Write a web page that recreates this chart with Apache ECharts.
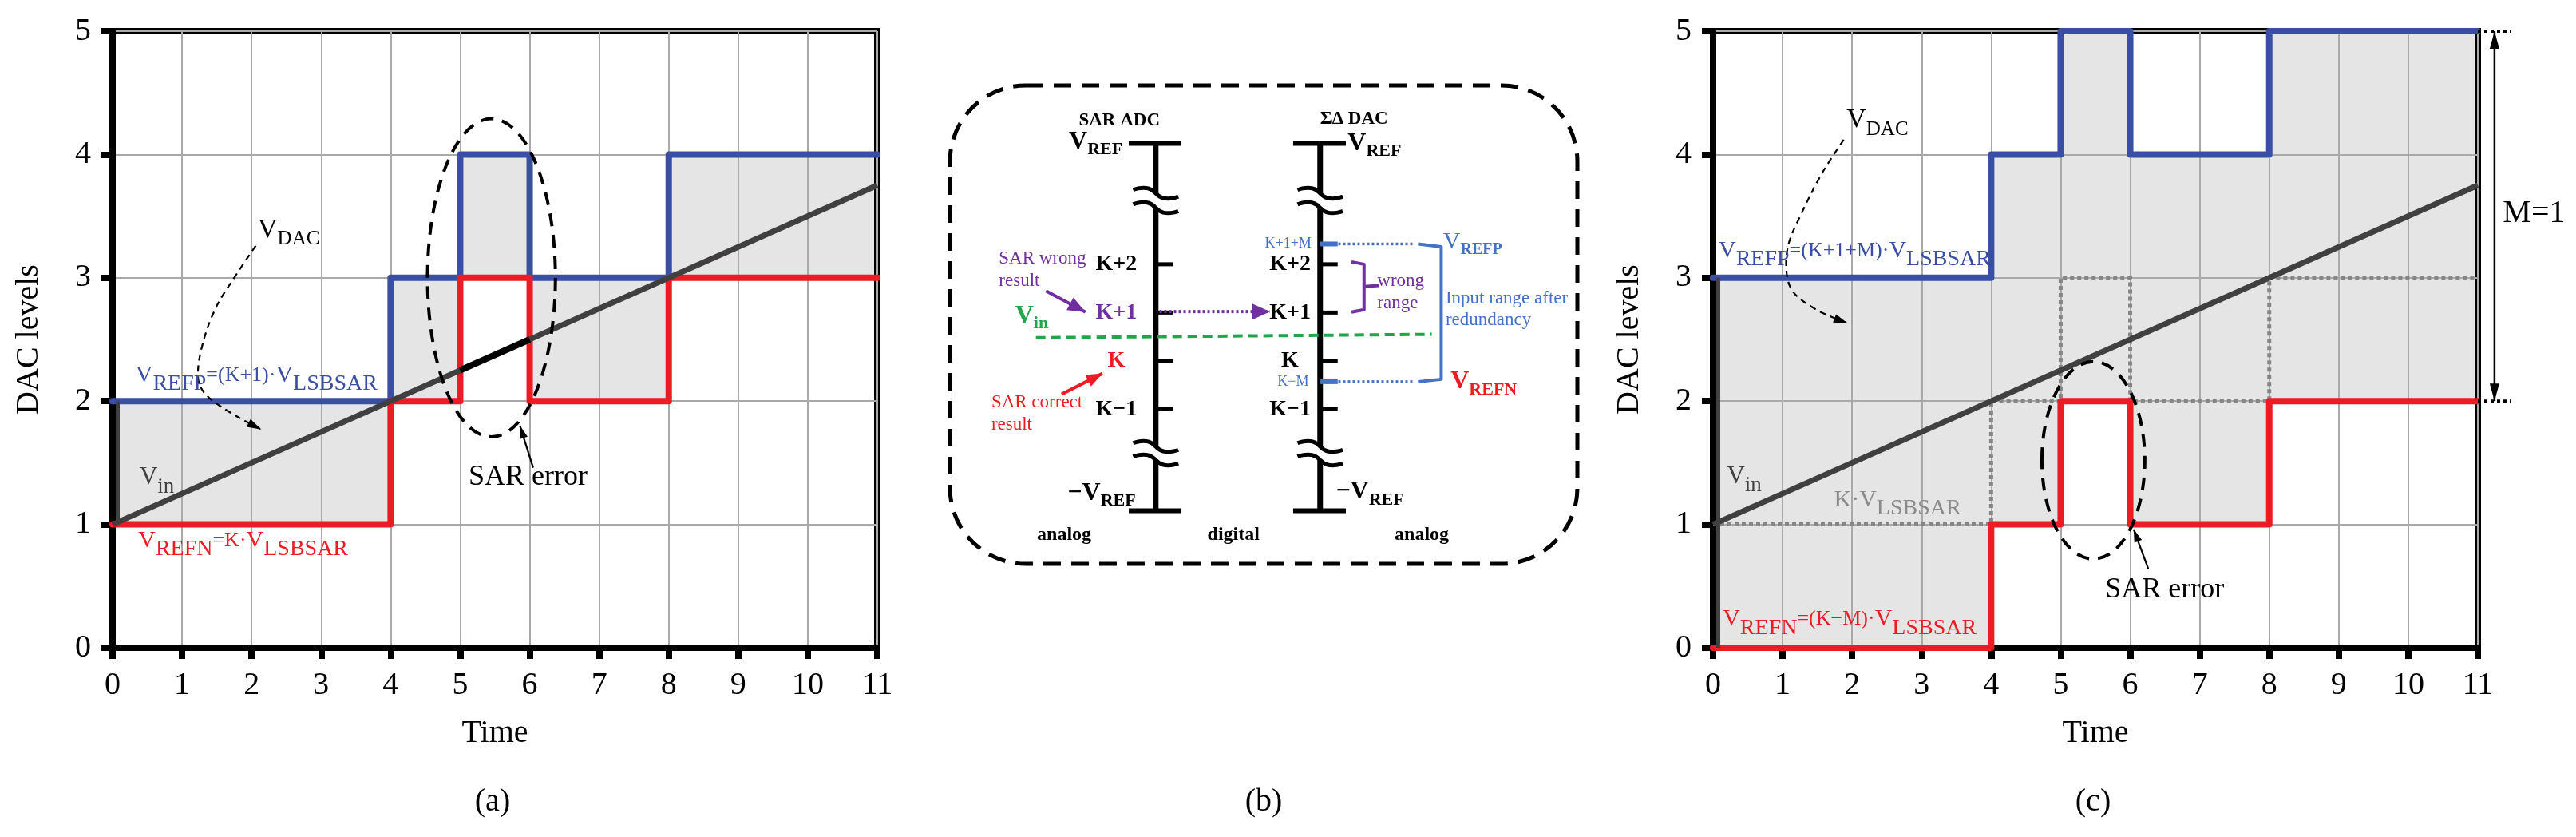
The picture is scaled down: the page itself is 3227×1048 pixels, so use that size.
<!DOCTYPE html>
<html>
<head>
<meta charset="utf-8">
<title>DAC levels</title>
<script src="https://cdn.jsdelivr.net/npm/echarts@6.0.0/dist/echarts.min.js"></script>
<style>
html,body{margin:0;padding:0;background:#ffffff;}
#chart{width:3227px;height:1048px;}
</style>
</head>
<body>
<div id="chart"></div>
<script>
// ---------------- colours / fonts ----------------
const BLUE = '#3a4fa3', RED = '#ec1c24', DGRAY = '#404040';
const BBLUE = '#4472c4', PURPLE = '#7030a0', GREEN = '#1fa64a', KGRAY = '#8a8a8a';
const FONT = '"Liberation Serif", "Times New Roman", Times, serif';

// ---------------- data ----------------
const TIME_TICKS = [0,1,2,3,4,5,6,7,8,9,10,11];
const LEVEL_TICKS = [0,1,2,3,4,5];
const STEP_TIMES = [0,4,5,6,8,11];
// panel (a)
const A_REFP = [2,3,4,3,4];
const A_REFN = [1,2,3,2,3];
// panel (c)
const C_REFP = [3,4,5,4,5];
const C_REFN = [0,1,2,1,2];
const C_K    = [1,2,3,2,3];
// input ramp
const VIN = [[0,1],[11,3.75]];
const A_VIN_ERROR = [[5,2.25],[6,2.5]];
// panel (b) diagram levels
const DIAG_LEVEL_NAMES = ['K−1','K','K+1','K+2'];
const DIAG_LEVELS = [-1,0,1,2];
const DIAG_LEFT_COLORS = ['#000', RED, PURPLE, '#000'];
const DIAG_M_NAMES = ['K+1+M','K−M'];
const DIAG_M_LEVELS = [2.42,-0.43];

// ---------------- helpers ----------------
function fontStr(w, s){ return w + ' ' + s + 'px ' + FONT; }
function tok(size, weight, extra){
  const w = weight || 'normal';
  return Object.assign({fontSize:size, fontFamily:FONT, fontWeight:w, font:fontStr(w,size)}, extra || {});
}
function richSub(v, s, p, pad, w){
  return {v:tok(v,w), s:tok(s,w,{padding:[pad,0,0,0]}), p:tok(p,w)};
}
const RICH_REF  = richSub(30, 28, 26, 22);
const RICH_VDAC = richSub(34, 25, 25, 24);
const RICH_VIN  = richSub(31, 27, 27, 24);
const RICH_BOLD = richSub(32, 22, 22, 20, 'bold');
const RICH_BP   = {v:tok(30,'normal'), s:tok(20,'bold',{padding:[20,0,0,0]})};

function stepPts(vals){
  return STEP_TIMES.map((t,i) => [t, vals[Math.min(i, vals.length-1)]]);
}
function bandData(lo, hi){
  return lo.map((v,i) => [STEP_TIMES[i], STEP_TIMES[i+1], lo[i], hi[i]]);
}
function headPoly(tip, from, len, wid, color){
  const dx = tip[0]-from[0], dy = tip[1]-from[1];
  const d = Math.hypot(dx,dy) || 1, ux = dx/d, uy = dy/d;
  const bx = tip[0]-ux*len, by = tip[1]-uy*len;
  return {type:'polygon', shape:{points:[[tip[0],tip[1]],[bx-uy*wid/2, by+ux*wid/2],[bx+uy*wid/2, by-ux*wid/2]]},
          style:{fill:color, stroke:'none'}};
}
function buildAnn(a, api){
  const P = p => api.coord(p);
  const col = a.color || '#000';
  if (a.t === 'text'){
    const p = P(a.at);
    const w = a.weight || 'normal', s = a.size || 28;
    const style = {text:a.text, fill:col, fontSize:s, fontFamily:FONT, fontWeight:w, font:fontStr(w,s),
                   align:a.align || 'left', verticalAlign:'middle'};
    if (a.rich) style.rich = a.rich;
    return {type:'text', x:p[0], y:p[1], style:style};
  }
  if (a.t === 'line'){
    const pts = a.pts.map(P);
    const ch = [{type:'polyline', shape:{points:pts, smooth:a.smooth || 0},
                 style:{stroke:col, lineWidth:a.width || 2, lineDash:a.dash || null, fill:'none', lineCap:'butt', lineJoin:'round'}}];
    if (a.head) ch.push(headPoly(pts[pts.length-1], pts[pts.length-2], a.hl || 16, a.hw || 10, col));
    if (a.tail) ch.push(headPoly(pts[0], pts[1], a.hl || 16, a.hw || 10, col));
    return {type:'group', children:ch};
  }
  if (a.t === 'ellipse'){
    const c = P(a.c), e = P([a.c[0]+a.r[0], a.c[1]+a.r[1]]);
    return {type:'ellipse', shape:{cx:c[0], cy:c[1], rx:Math.abs(e[0]-c[0]), ry:Math.abs(c[1]-e[1])},
            style:{fill:'none', stroke:col, lineWidth:a.width || 4, lineDash:a.dash || null}};
  }
  if (a.t === 'rect'){
    const p0 = P([a.x0, a.y1]), p1 = P([a.x1, a.y0]);
    return {type:'rect', shape:{x:p0[0], y:p0[1], width:p1[0]-p0[0], height:p1[1]-p0[1], r:a.r || 0},
            style:{fill:'none', stroke:col, lineWidth:a.width || 2, lineDash:a.dash || null}};
  }
  if (a.t === 'strip'){
    const pHi = P([a.x, a.hi]), pLo = P([a.x, a.lo]);
    return {type:'rect', shape:{x:pHi[0]+a.off, y:pHi[1], width:a.w, height:pLo[1]-pHi[1]}, style:{fill:col}};
  }
  return null;
}
function anchorOf(a){
  if (a.at) return a.at.slice();
  if (a.c) return a.c.slice();
  if (a.pts) return a.pts[0].slice();
  if (a.t === 'rect') return [a.x0, a.y0];
  return [a.x, a.lo];
}
function annSeries(gi, list, z){
  return {type:'custom', xAxisIndex:gi, yAxisIndex:gi, z:z, silent:true, clip:false,
          data:list.map(anchorOf), renderItem:(params, api) => buildAnn(list[params.dataIndex], api)};
}

// ---------------- annotations panel (a) ----------------
const ANN_A = [
  {t:'strip', x:0, lo:1, hi:2, off:4, w:5, color:DGRAY},
  {t:'ellipse', c:[5.45,3.0], r:[0.92,1.29], width:4, dash:[16,11]},
  {t:'text', at:[5.12,1.38], text:'SAR error', size:36},
  {t:'line', pts:[[6.05,1.46],[5.86,1.80]], width:2.2, head:true, hl:16, hw:10},
  {t:'text', at:[2.09,3.39], text:'{v|V}{s|DAC}', rich:RICH_VDAC},
  {t:'line', pts:[[2.06,3.26],[1.75,3.0],[1.48,2.75],[1.29,2.45],[1.23,2.19],[1.33,2.06],[1.63,1.93],[2.0,1.81],[2.14,1.77]],
   smooth:0.35, width:2.2, dash:[8,6], head:true, hl:18, hw:11},
  {t:'text', at:[0.33,2.21], text:'{v|V}{s|REFP}{p|=(K+1)·}{v|V}{s|LSBSAR}', color:BLUE, rich:RICH_REF},
  {t:'text', at:[0.37,0.87], text:'{v|V}{s|REFN}{p|=K·}{v|V}{s|LSBSAR}', color:RED, rich:RICH_REF},
  {t:'text', at:[0.39,1.38], text:'{v|V}{s|in}', color:DGRAY, rich:RICH_VIN}
];

// ---------------- annotations panel (c) ----------------
const ANN_C = [
  {t:'strip', x:0, lo:0, hi:3, off:4, w:5, color:DGRAY},
  {t:'ellipse', c:[5.47,1.52], r:[0.74,0.80], width:4, dash:[16,11]},
  {t:'text', at:[5.64,0.47], text:'SAR error', size:36},
  {t:'line', pts:[[6.26,0.64],[6.05,0.96]], width:2.2, head:true, hl:16, hw:10},
  {t:'text', at:[1.92,4.28], text:'{v|V}{s|DAC}', rich:RICH_VDAC},
  {t:'line', pts:[[1.88,4.12],[1.57,3.85],[1.27,3.52],[1.08,3.26],[1.06,3.03],[1.16,2.88],[1.46,2.75],[1.80,2.66],[1.94,2.63]],
   smooth:0.35, width:2.2, dash:[8,6], head:true, hl:18, hw:11},
  {t:'text', at:[0.08,3.22], text:'{v|V}{s|REFP}{p|=(K+1+M)·}{v|V}{s|LSBSAR}', color:BLUE, rich:RICH_REF},
  {t:'text', at:[0.14,0.23], text:'{v|V}{s|REFN}{p|=(K−M)·}{v|V}{s|LSBSAR}', color:RED, rich:RICH_REF},
  {t:'text', at:[0.20,1.39], text:'{v|V}{s|in}', color:DGRAY, rich:RICH_VIN},
  {t:'text', at:[1.74,1.20], text:'{v|K·V}{s|LSBSAR}', color:KGRAY, rich:RICH_REF},
  {t:'line', pts:[[11,5],[11.48,5]], width:4, dash:[4,4]},
  {t:'line', pts:[[11,2],[11.48,2]], width:4, dash:[4,4]},
  {t:'line', pts:[[11.24,5],[11.24,2]], width:2.5, head:true, tail:true, hl:22, hw:12},
  {t:'text', at:[11.36,3.52], text:'M=1', size:40}
];

// ---------------- annotations panel (b) : schematic ----------------
const XL = 32.8, XR = 59.0;
const ANN_B = [];
ANN_B.push({t:'rect', x0:0, x1:100, y0:-4.2, y1:5.7, r:95, width:5, dash:[22,13]});
[XL, XR].forEach(x => {
  ANN_B.push({t:'line', pts:[[x,4.5],[x,3.47]], width:7});
  ANN_B.push({t:'line', pts:[[x,3.17],[x,-1.77]], width:7});
  ANN_B.push({t:'line', pts:[[x,-2.05],[x,-3.1]], width:7});
  ANN_B.push({t:'line', pts:[[x-4.3,4.5],[x+4.1,4.5]], width:6});
  ANN_B.push({t:'line', pts:[[x-4.3,-3.1],[x+4.1,-3.1]], width:6});
  [3.47,3.17,-1.77,-2.05].forEach(L => ANN_B.push({t:'line', pts:[[x-3.6,L+0.07],[x-1.2,L+0.1],[x+1.2,L-0.1],[x+3.6,L-0.07]], smooth:0.5, width:5}));
  DIAG_LEVELS.forEach(L => ANN_B.push({t:'line', pts:[[x,L],[x+2.8,L]], width:5}));
});
DIAG_M_LEVELS.forEach(L => ANN_B.push({t:'line', pts:[[XR,L],[XR+2.8,L]], width:6, color:BBLUE}));
DIAG_LEVELS.forEach((L,i) => {
  ANN_B.push({t:'text', at:[26.5,L], text:DIAG_LEVEL_NAMES[i], size:28, weight:'bold', align:'center', color:DIAG_LEFT_COLORS[i]});
  ANN_B.push({t:'text', at:[54.2,L], text:DIAG_LEVEL_NAMES[i], size:28, weight:'bold', align:'center'});
});
ANN_B.push({t:'text', at:[53.9,DIAG_M_LEVELS[0]], text:DIAG_M_NAMES[0], size:18, align:'center', color:BBLUE});
ANN_B.push({t:'text', at:[54.7,DIAG_M_LEVELS[1]], text:DIAG_M_NAMES[1], size:18, align:'center', color:BBLUE});
ANN_B.push(
  {t:'text', at:[27.0,4.97], text:'SAR ADC', size:23, weight:'bold', align:'center'},
  {t:'text', at:[64.4,5.0], text:'ΣΔ DAC', size:23, weight:'bold', align:'center'},
  {t:'text', at:[27.5,4.53], text:'{v|V}{s|REF}', align:'right', rich:RICH_BOLD},
  {t:'text', at:[63.4,4.50], text:'{v|V}{s|REF}', rich:RICH_BOLD},
  {t:'text', at:[29.6,-2.74], text:'{v|−V}{s|REF}', align:'right', rich:RICH_BOLD},
  {t:'text', at:[61.5,-2.71], text:'{v|−V}{s|REF}', rich:RICH_BOLD},
  {t:'text', at:[18.2,-3.6], text:'analog', size:24, weight:'bold', align:'center'},
  {t:'text', at:[45.2,-3.6], text:'digital', size:24, weight:'bold', align:'center'},
  {t:'text', at:[75.2,-3.6], text:'analog', size:24, weight:'bold', align:'center'},
  {t:'text', at:[7.8,2.12], text:'SAR wrong', size:23, color:PURPLE},
  {t:'text', at:[7.8,1.65], text:'result', size:23, color:PURPLE},
  {t:'text', at:[6.6,-0.86], text:'SAR correct', size:23, color:RED},
  {t:'text', at:[6.6,-1.32], text:'result', size:23, color:RED},
  {t:'text', at:[10.4,0.93], text:'{v|V}{s|in}', color:GREEN, rich:RICH_BOLD},
  {t:'text', at:[68.1,1.65], text:'wrong', size:23, color:PURPLE},
  {t:'text', at:[68.1,1.19], text:'range', size:23, color:PURPLE},
  {t:'text', at:[79.0,1.29], text:'Input range after', size:23, color:BBLUE},
  {t:'text', at:[79.0,0.84], text:'redundancy', size:23, color:BBLUE},
  {t:'text', at:[78.6,2.46], text:'{v|V}{s|REFP}', color:BBLUE, rich:RICH_BP},
  {t:'text', at:[79.8,-0.43], text:'{v|V}{s|REFN}', color:RED, rich:RICH_BOLD},
  {t:'line', pts:[[13.7,0.48],[76.8,0.55]], width:4, dash:[12,7], color:GREEN},
  {t:'line', pts:[[33.4,1.02],[51.0,1.02]], width:4, dash:[3,3], color:PURPLE, head:true, hl:22, hw:20},
  {t:'line', pts:[[15.3,1.45],[21.6,1.01]], width:4, color:PURPLE, head:true, hl:22, hw:18},
  {t:'line', pts:[[17.8,-0.69],[24.3,-0.26]], width:4, color:RED, head:true, hl:20, hw:16},
  {t:'line', pts:[[59.6,2.42],[73.8,2.42]], width:3.5, dash:[3,3], color:BBLUE},
  {t:'line', pts:[[59.6,-0.43],[73.8,-0.43]], width:3.5, dash:[3,3], color:BBLUE},
  {t:'line', pts:[[74.6,2.42],[78.3,2.36],[78.3,-0.38],[74.6,-0.43]], width:4, color:BBLUE},
  {t:'line', pts:[[64.0,2.05],[66.0,2.0],[66.0,1.06],[64.0,1.01]], width:4, color:PURPLE},
  {t:'line', pts:[[66.0,1.54],[68.4,1.56]], width:4, color:PURPLE}
);

// ---------------- axes ----------------
const AX_TXT = {fontSize:40, fontFamily:FONT, color:'#000'};
function xAx(gi){
  return {type:'value', gridIndex:gi, min:TIME_TICKS[0], max:TIME_TICKS[TIME_TICKS.length-1], interval:1,
    axisLine:{show:true, onZero:false, lineStyle:{color:'#000', width:8}},
    axisTick:{show:true, length:14, lineStyle:{color:'#000', width:8}},
    axisLabel:Object.assign({margin:27, formatter:v => TIME_TICKS.indexOf(v) >= 0 ? String(v) : ''}, AX_TXT),
    splitLine:{show:true, lineStyle:{color:'#a9a9a9', width:2}},
    name:'Time', nameLocation:'middle', nameGap:87, nameTextStyle:AX_TXT};
}
function yAx(gi){
  return {type:'value', gridIndex:gi, min:LEVEL_TICKS[0], max:LEVEL_TICKS[LEVEL_TICKS.length-1], interval:1,
    axisLine:{show:true, onZero:false, lineStyle:{color:'#000', width:8}},
    axisTick:{show:true, length:14, lineStyle:{color:'#000', width:8}},
    axisLabel:Object.assign({margin:27, formatter:v => LEVEL_TICKS.indexOf(v) >= 0 ? String(v) : ''}, AX_TXT),
    splitLine:{show:true, lineStyle:{color:'#a9a9a9', width:2}},
    name:'DAC levels', nameLocation:'middle', nameRotate:90, nameGap:85, nameTextStyle:AX_TXT};
}

// ---------------- series ----------------
function bandSeries(gi, lo, hi){
  return {type:'custom', xAxisIndex:gi, yAxisIndex:gi, z:-1, silent:true,
    data:bandData(lo, hi), encode:{x:[0,1], y:[2,3]},
    renderItem:(params, api) => {
      const p0 = api.coord([api.value(0), api.value(3)]);
      const p1 = api.coord([api.value(1), api.value(2)]);
      return {type:'rect', shape:{x:p0[0], y:p0[1], width:p1[0]-p0[0], height:p1[1]-p0[1]}, style:{fill:'#e5e5e5'}};
    }};
}
function stepSeries(gi, vals, color, width, z, dash){
  return {type:'line', xAxisIndex:gi, yAxisIndex:gi, data:stepPts(vals), step:'end', symbol:'none', clip:false, silent:true, z:z,
    lineStyle:{color:color, width:width, type:dash || 'solid', join:dash ? 'miter' : 'round', cap:dash ? 'butt' : 'round'}};
}
function plainLine(gi, data, color, width, z){
  return {type:'line', xAxisIndex:gi, yAxisIndex:gi, data:data, symbol:'none', clip:false, silent:true, z:z,
    lineStyle:{color:color, width:width, cap:'butt'}};
}

const series = [
  bandSeries(0, A_REFN, A_REFP),
  stepSeries(0, A_REFP, BLUE, 8, 4),
  stepSeries(0, A_REFN, RED, 8, 4),
  plainLine(0, VIN, DGRAY, 7, 5),
  plainLine(0, A_VIN_ERROR, '#000', 8, 6),
  annSeries(0, ANN_A, 10),

  bandSeries(1, C_REFN, C_REFP),
  stepSeries(1, C_K, '#868686', 5, 3, [5,4]),
  stepSeries(1, C_REFP, BLUE, 8, 4),
  stepSeries(1, C_REFN, RED, 8, 4),
  plainLine(1, VIN, DGRAY, 7, 5),
  annSeries(1, ANN_C, 10),

  annSeries(2, ANN_B, 10)
];

const option = {
  animation:false,
  backgroundColor:'#ffffff',
  grid:[
    {left:141, top:39, width:958, height:772, show:true, borderColor:'#000', borderWidth:8, backgroundColor:'transparent'},
    {left:2146, top:39, width:958, height:772, show:true, borderColor:'#000', borderWidth:8, backgroundColor:'transparent'},
    {left:1190, top:107, width:786, height:599, show:false}
  ],
  xAxis:[xAx(0), xAx(1), {type:'value', gridIndex:2, min:0, max:100, show:false}],
  yAxis:[yAx(0), yAx(1), {type:'value', gridIndex:2, min:-4.2, max:5.7, show:false}],
  graphic:[
    {type:'text', x:617, y:1004, style:{text:'(a)', font:fontStr('normal',40), fill:'#000', align:'center', verticalAlign:'middle'}},
    {type:'text', x:1583, y:1004, style:{text:'(b)', font:fontStr('normal',40), fill:'#000', align:'center', verticalAlign:'middle'}},
    {type:'text', x:2622, y:1004, style:{text:'(c)', font:fontStr('normal',40), fill:'#000', align:'center', verticalAlign:'middle'}}
  ],
  series:series
};

const chart = echarts.init(document.getElementById('chart'), null, {renderer:'canvas'});
chart.setOption(option);
</script>
</body>
</html>
